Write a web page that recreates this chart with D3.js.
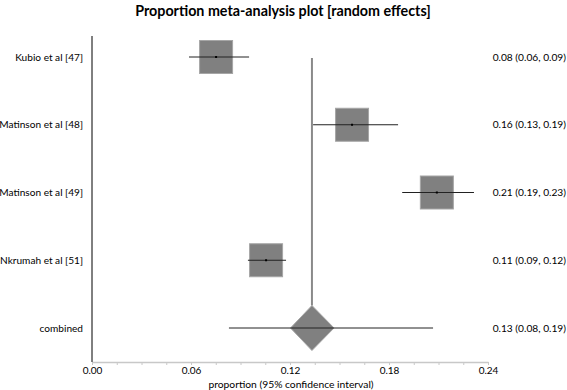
<!DOCTYPE html>
<html>
<head>
<meta charset="utf-8">
<script src="https://cdn.jsdelivr.net/npm/d3@7"></script>
<style>
	body { margin: 0; background: #fff; }
	svg { font-family: Lato, "Open Sans", sans-serif; }
</style>
</head>
<body>
<div id="chart"></div>
<script>
// DATA
const studies = ['Kubio et al [47]', 'Matinson et al [48]', 'Matinson et al [49]', 'Nkrumah et al [51]'];
const estimates = [0.0752, 0.1576, 0.209, 0.1055];
const lower = [0.0588, 0.134, 0.188, 0.0945];
const upper = [0.0952, 0.1855, 0.2315, 0.1176];
const ciLabels = ['0.08 (0.06, 0.09)', '0.16 (0.13, 0.19)', '0.21 (0.19, 0.23)', '0.11 (0.09, 0.12)'];
const combined = { label: 'combined', est: 0.1333, lo: 0.083, hi: 0.2067, dLo: 0.1203, dHi: 0.1467, text: '0.13 (0.08, 0.19)' };
const xTicks = [0, 0.06, 0.12, 0.18, 0.24];

// THE GOOD STUFF
const width = 567, height = 390;
const margin = { top: 36, right: 79, bottom: 28, left: 92 };
const boxSize = 33;

const rows = studies.map((s, i) => ({
	name: s, est: estimates[i], lo: lower[i], hi: upper[i], text: ciLabels[i]
}));
const rowNames = studies.concat([combined.label]);

const svg = d3.select('#chart')
	.append('svg')
	.attr('width', width)
	.attr('height', height);

const xScale = d3.scaleLinear()
	.domain([0, 0.24])
	.range([margin.left, width - margin.right]);

const yScale = d3.scalePoint()
	.domain(rowNames)
	.range([57, 328]);

// title
svg.append('text')
	.attr('x', 283)
	.attr('y', 16)
	.attr('text-anchor', 'middle')
	.attr('font-weight', 'bold')
	.attr('font-size', 14.3)
	.text('Proportion meta-analysis plot [random effects]');

// x axis
const xAxis = svg.append('g')
	.attr('transform', `translate(0, ${height - margin.bottom})`)
	.call(d3.axisBottom(xScale)
		.tickValues(d3.range(0, 0.2401, 0.015))
		.tickSize(3)
		.tickSizeOuter(0)
		.tickFormat(d => xTicks.some(t => Math.abs(t - d) < 1e-9) ? d3.format('.2f')(d) : '')
	);
xAxis.select('.domain').attr('stroke', '#c8c8c8').attr('stroke-width', 1.5);
xAxis.selectAll('.tick line').attr('stroke', '#c8c8c8');
xAxis.selectAll('.tick text')
	.attr('y', 5)
	.attr('font-size', 10)
	.attr('font-family', 'Lato, sans-serif')
	.attr('fill', '#000');

svg.append('text')
	.attr('x', 291)
	.attr('y', 388)
	.attr('text-anchor', 'middle')
	.attr('font-size', 10.3)
	.text('proportion (95% confidence interval)');

// left axis line
svg.append('line')
	.attr('x1', xScale(0)).attr('x2', xScale(0))
	.attr('y1', margin.top).attr('y2', height - margin.bottom)
	.attr('stroke', '#000').attr('stroke-width', 1);

// combined estimate reference line
const diamondH = 22.5;
svg.append('line')
	.attr('x1', xScale(combined.est)).attr('x2', xScale(combined.est))
	.attr('y1', yScale(studies[0]) + 1)
	.attr('y2', yScale(combined.label) - diamondH)
	.attr('stroke', '#8a8a8a').attr('stroke-width', 2);

// study rows
const g = svg.append('g')
	.selectAll('g')
	.data(rows)
	.join('g')
	.attr('transform', d => `translate(0, ${yScale(d.name)})`);

g.append('rect')
	.attr('x', d => xScale(d.est) - boxSize / 2)
	.attr('y', -boxSize / 2)
	.attr('width', boxSize)
	.attr('height', boxSize)
	.attr('fill', '#808080')
	.attr('stroke', '#a6a6a6')
	.attr('stroke-width', 1);

g.append('line')
	.attr('x1', d => xScale(d.lo))
	.attr('x2', d => xScale(d.hi))
	.attr('stroke', '#222')
	.attr('stroke-width', 1);

g.append('rect')
	.attr('x', d => xScale(d.est) - 1)
	.attr('y', -1)
	.attr('width', 2)
	.attr('height', 2)
	.attr('fill', '#000');

// combined row
const yc = yScale(combined.label);
svg.append('path')
	.attr('d', `M${xScale(combined.dLo)},${yc} L${xScale(combined.est)},${yc - diamondH} L${xScale(combined.dHi)},${yc} L${xScale(combined.est)},${yc + diamondH} Z`)
	.attr('fill', '#808080')
	.attr('stroke', '#a6a6a6');

svg.append('line')
	.attr('x1', xScale(combined.lo)).attr('x2', xScale(combined.hi))
	.attr('y1', yc).attr('y2', yc)
	.attr('stroke', '#222').attr('stroke-width', 1);

// labels
const allRows = rows.concat([{ name: combined.label, text: combined.text }]);

svg.append('g')
	.selectAll('text')
	.data(allRows)
	.join('text')
	.attr('x', 83)
	.attr('y', d => yScale(d.name))
	.attr('dy', '0.35em')
	.attr('text-anchor', 'end')
	.attr('font-size', 10.1)
	.text(d => d.name);

svg.append('g')
	.selectAll('text')
	.data(allRows)
	.join('text')
	.attr('x', 566)
	.attr('y', d => yScale(d.name))
	.attr('dy', '0.35em')
	.attr('text-anchor', 'end')
	.attr('font-size', 10.2)
	.text(d => d.text);
</script>
</body>
</html>
